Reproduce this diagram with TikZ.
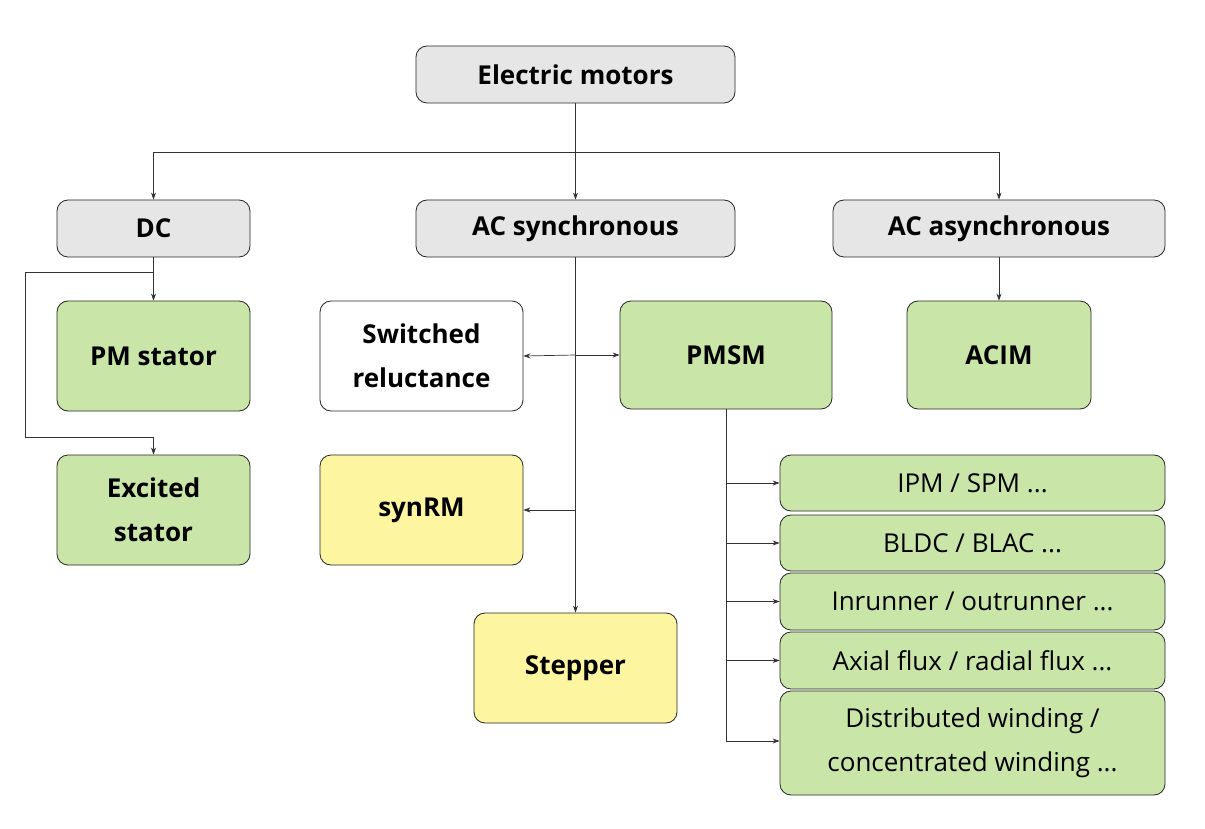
\documentclass[tikz,border=0pt]{standalone}
\usepackage{fontspec}
\setmainfont{Open Sans}
\usetikzlibrary{arrows.meta}
\definecolor{gr}{HTML}{E6E6E6}
\definecolor{gn}{HTML}{C9E6A8}
\definecolor{yl}{HTML}{FDF5A0}
\begin{document}
\begin{tikzpicture}[x=1pt,y=-1pt,
 box/.style={draw=black!85, rounded corners=11pt, line width=0.8pt, inner sep=0pt, align=center, font=\fontsize{26}{44}\selectfont\bfseries},
 lst/.style={box, fill=gn, font=\fontsize{26}{44}\selectfont, minimum width=385pt},
 ln/.style={line width=0.7pt, draw=black!80},
 ar/.style={ln, -{Stealth[length=7pt,width=5pt]}}]
\fill[white] (0,0) rectangle (1205,829);
\useasboundingbox (0,0) rectangle (1205,829);
\node[box, fill=gr, minimum width=319pt, minimum height=57pt] (em) at (575.5,74.5) {Electric motors};
\node[box, fill=gr, minimum width=193pt, minimum height=57pt] (dc) at (153.5,228.5) {DC};
\node[box, fill=gr, minimum width=319pt, minimum height=57pt] (acs) at (575.5,228.5) {AC synchronous};
\node[box, fill=gr, minimum width=332pt, minimum height=57pt] (aca) at (999,228.5) {AC asynchronous};
\node[box, fill=gn, minimum width=193pt, minimum height=110pt] (pms) at (153.5,356) {PM stator};
\node[box, fill=gn, minimum width=193pt, minimum height=110pt] (exc) at (153.5,510) {Excited\\stator};
\node[box, fill=white, minimum width=203pt, minimum height=110pt] (sr) at (421.5,356) {Switched\\reluctance};
\node[box, fill=gn, minimum width=212pt, minimum height=108pt] (pmsm) at (726,355) {PMSM};
\node[box, fill=gn, minimum width=184pt, minimum height=108pt] (acim) at (999,355) {ACIM};
\node[box, fill=yl, minimum width=203pt, minimum height=110pt] (syn) at (421.5,510) {synRM};
\node[box, fill=yl, minimum width=203pt, minimum height=110pt] (step) at (575.5,668) {Stepper};
\node[lst, minimum height=56pt] (l1) at (972.5,483) {IPM / SPM ...};
\node[lst, minimum height=56pt] (l2) at (972.5,543) {BLDC / BLAC ...};
\node[lst, minimum height=57pt] (l3) at (972.5,601.5) {Inrunner / outrunner ...};
\node[lst, minimum height=57pt] (l4) at (972.5,660.5) {Axial flux / radial flux ...};
\node[lst, minimum height=104pt] (l5) at (972.5,743) {Distributed winding /\\concentrated winding ...};
% top tree
\draw[ln] (em.south) -- (575.5,152) coordinate (j);
\draw[ar] (j) -| (dc.north);
\draw[ar] (j) -| (aca.north);
\draw[ar] (j) -- (acs.north);
% DC
\draw[ln] (dc.south) -- (153.5,272) coordinate (d);
\draw[ar] (d) -- (pms.north);
\draw[ar] (d) -- (25,272) -- (25,437) -| (exc.north);
% AC sync
\draw[ar] (acs.south) -- (step.north);
\draw[ar] (575.5,355) -- (sr.east);
\draw[ar] (575.5,355) -- (pmsm.west);
\draw[ar] (575.5,510) -- (syn.east);
% async
\draw[ar] (aca.south) -- (acim.north);
% PMSM list
\draw[ln] (pmsm.south) -- (726,741);
\foreach \n/\y in {l1/483,l2/543,l3/601.5,l4/660.5,l5/741}
  \draw[ar] (726,\y) -- (\n.west |- 0,\y);
\end{tikzpicture}
\end{document}
